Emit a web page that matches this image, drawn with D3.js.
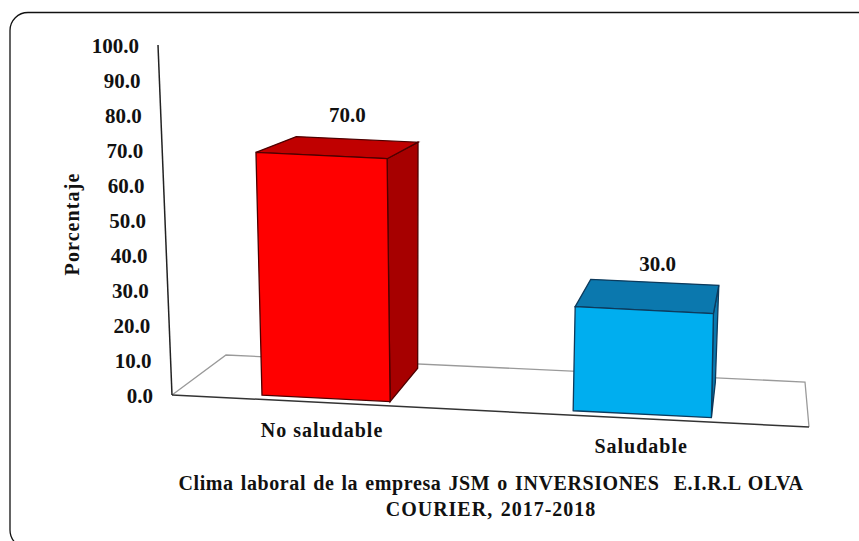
<!DOCTYPE html>
<html>
<head>
<meta charset="utf-8">
<script src="https://cdn.jsdelivr.net/npm/d3@7"></script>
<style>
  html, body { margin: 0; padding: 0; background: #fff; }
  text { font-family: "Liberation Serif", serif; font-weight: bold; fill: #111; }
</style>
</head>
<body>
<div id="chart"></div>
<script>
const categories = ['No saludable', 'Saludable'];
const values = [70.0, 30.0];
const yTicks = [0, 10, 20, 30, 40, 50, 60, 70, 80, 90, 100];
const yTitle = 'Porcentaje';
const captionLines = ['Clima laboral de la empresa JSM o INVERSIONES  E.I.R.L OLVA', 'COURIER, 2017-2018'];

const width = 859, height = 541;

const svg = d3.select('#chart')
  .append('svg')
  .attr('width', width)
  .attr('height', height);

// Rounded outer frame, runs off the right and bottom edges
svg.append('rect')
  .attr('x', 10).attr('y', 12.5)
  .attr('width', 900).attr('height', 535.5)
  .attr('rx', 18).attr('ry', 18)
  .attr('fill', 'none').attr('stroke', '#111').attr('stroke-width', 1.3);

// Floor corners on screen: u runs along the category axis, w runs into the depth
const frontX = d3.scaleLinear().domain([0, 1]).range([172, 809]);
const frontY = d3.scaleLinear().domain([0, 1]).range([395, 427]);
const backX = d3.scaleLinear().domain([0, 1]).range([226, 805]);
const backY = d3.scaleLinear().domain([0, 1]).range([355, 382]);

// Value height shrinks with depth, verticals lean outwards from the middle
const unitHeight = d3.scaleLinear().domain([0, 1]).range([3.5, 3.2]);
const lean = d3.scaleLinear()
  .domain([0, 0.134, 0.337, 0.627, 0.846])
  .range([-14, -9.2, -4.9, 6.1, 6.1]);

function project(u, w, v) {
  const x = frontX(u) + (backX(u) - frontX(u)) * w;
  const y = frontY(u) + (backY(u) - frontY(u)) * w;
  return [x + (lean(u) + 6 * w) * v / 100, y - unitHeight(w) * v];
}

const band = d3.scaleBand()
  .domain(categories)
  .range([-0.015, 0.985])
  .paddingInner(0.58)
  .paddingOuter(0.29);

// Perspective: the near category is drawn a little narrower than the far one
const stretch = d3.scaleLinear()
  .domain([0, 0.13, 0.34, 0.63, 0.84, 1])
  .range([0, 0.134, 0.337, 0.627, 0.846, 1]);

const line = d3.line();
const closed = pts => line(pts) + 'Z';

// Floor
const g = svg.append('g');
g.append('path')
  .attr('d', line([project(0, 0, 0), project(0, 1, 0), project(1, 1, 0), project(1, 0, 0)]))
  .attr('fill', 'none').attr('stroke', '#9a9a9a').attr('stroke-width', 1.3);
g.append('path')
  .attr('d', line([project(0, 0, 0), project(1, 0, 0)]))
  .attr('fill', 'none').attr('stroke', '#333').attr('stroke-width', 1.5);

// Value axis
g.append('path')
  .attr('d', line([project(0, 0, 0), project(0, 0, 100)]))
  .attr('fill', 'none').attr('stroke', '#222').attr('stroke-width', 1.5);

g.selectAll('.tick-label')
  .data(yTicks)
  .enter()
  .append('text')
  .attr('class', 'tick-label')
  .attr('x', d => project(0, 0, d)[0] - 19)
  .attr('y', d => project(0, 0, d)[1] + 7.5)
  .attr('text-anchor', 'end')
  .attr('font-size', 21)
  .text(d => d.toFixed(1));

// Bars: side and top faces first, front face last
const barColors = [
  { front: '#ff0000', top: '#c00000', side: '#a60000', edge: '#4d0000' },
  { front: '#00aeef', top: '#0b78ae', side: '#0b78ae', edge: '#0d3a5c' }
];

const bars = g.selectAll('.bar')
  .data(categories.map((c, i) => ({ c, v: values[i], colors: barColors[i] })))
  .enter()
  .append('g')
  .attr('class', 'bar');

const w0 = 0.1, w1 = 0.9;
const u0 = d => stretch(band(d.c));
const u1 = d => stretch(band(d.c) + band.bandwidth());
const uMid = d => (u0(d) + u1(d)) / 2;

bars.append('path')
  .attr('d', d => closed([project(u1(d), w0, 0), project(u1(d), w1, 0), project(u1(d), w1, d.v), project(u1(d), w0, d.v)]))
  .attr('fill', d => d.colors.side).attr('stroke', d => d.colors.edge).attr('stroke-width', 1.3);
bars.append('path')
  .attr('d', d => closed([project(u0(d), w0, d.v), project(u0(d), w1, d.v), project(u1(d), w1, d.v), project(u1(d), w0, d.v)]))
  .attr('fill', d => d.colors.top).attr('stroke', d => d.colors.edge).attr('stroke-width', 1.3);
bars.append('path')
  .attr('d', d => closed([project(u0(d), w0, 0), project(u1(d), w0, 0), project(u1(d), w0, d.v), project(u0(d), w0, d.v)]))
  .attr('fill', d => d.colors.front).attr('stroke', d => d.colors.edge).attr('stroke-width', 1.3);

// Value labels above each bar
bars.append('text')
  .attr('x', d => project(uMid(d), 0.5, d.v)[0] + 8)
  .attr('y', d => project(uMid(d), 0.5, d.v)[1] - 25)
  .attr('text-anchor', 'middle')
  .attr('font-size', 21)
  .text(d => d.v.toFixed(1));

// Category labels under the floor
bars.append('text')
  .attr('x', d => project(uMid(d), 0, 0)[0])
  .attr('y', d => project(uMid(d), 0, 0)[1] + 34.5)
  .attr('text-anchor', 'middle')
  .attr('font-size', 20)
  .attr('letter-spacing', 1)
  .text(d => d.c);

// Axis title
svg.append('text')
  .attr('transform', 'translate(79,224) rotate(-90)')
  .attr('text-anchor', 'middle')
  .attr('font-size', 20)
  .attr('letter-spacing', 1.1)
  .text(yTitle);

// Caption, first line is set tighter with wider word gaps
svg.selectAll('.caption')
  .data(captionLines)
  .enter()
  .append('text')
  .attr('class', 'caption')
  .attr('x', 491)
  .attr('y', (d, i) => 490 + i * 26)
  .attr('text-anchor', 'middle')
  .style('white-space', 'pre')
  .attr('font-size', 20)
  .attr('letter-spacing', (d, i) => i ? 1 : 0.6)
  .attr('word-spacing', 1.5)
  .text(d => d);
</script>
</body>
</html>
